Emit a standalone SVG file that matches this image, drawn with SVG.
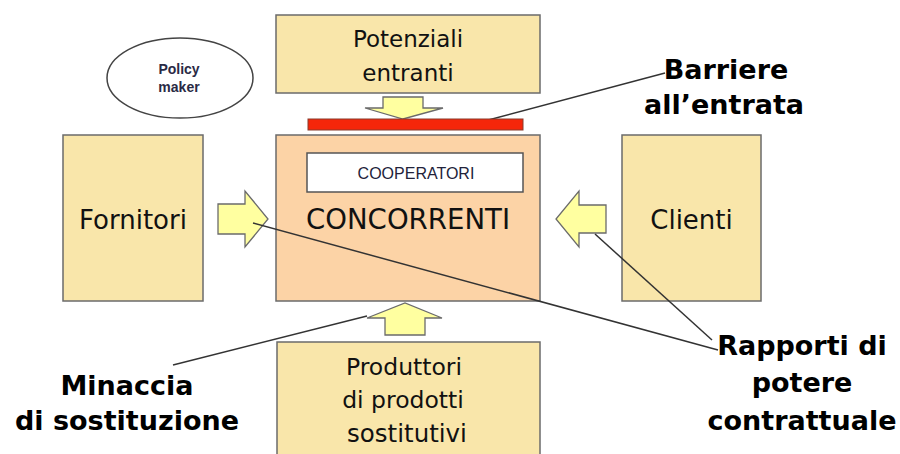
<svg xmlns="http://www.w3.org/2000/svg" width="900" height="454" viewBox="0 0 900 454">
<style>
.box{fill:#f9e6aa;stroke:#6b6b6b;stroke-width:1.5}
.core{fill:#fcd3a6;stroke:#6b6b6b;stroke-width:1.5}
.lbl{font-family:"DejaVu Sans",Verdana,sans-serif;fill:#111;text-anchor:middle}
.bold{font-family:"DejaVu Sans",Verdana,sans-serif;font-weight:bold;fill:#000;text-anchor:middle;font-size:27px}
.blk{fill:#ffffa0;stroke:#6b6b6b;stroke-width:1.3;stroke-linejoin:miter}
.lead{stroke:#333;stroke-width:1.5;fill:none}
</style>
<rect width="900" height="454" fill="#ffffff"/>
<g id="policy-maker">
<ellipse cx="180" cy="78" rx="73" ry="40" fill="#fff" stroke="#444" stroke-width="1.5"/>
<text x="179" y="74" font-family="'Liberation Sans',Arial,sans-serif" font-size="14" font-weight="bold" fill="#2a2a45" text-anchor="middle">Policy</text>
<text x="179" y="92" font-family="'Liberation Sans',Arial,sans-serif" font-size="14" font-weight="bold" fill="#2a2a45" text-anchor="middle">maker</text>
</g>
<g id="potenziali-entranti">
<rect class="box" x="276" y="15" width="264" height="78"/>
<text class="lbl" x="408" y="47" font-size="23">Potenziali</text>
<text class="lbl" x="408" y="81" font-size="23">entranti</text>
</g>
<g id="fornitori">
<rect class="box" x="63" y="135" width="140" height="166"/>
<text class="lbl" x="133" y="229" font-size="26">Fornitori</text>
</g>
<g id="clienti">
<rect class="box" x="622" y="135" width="139" height="166"/>
<text class="lbl" x="691.5" y="229" font-size="26">Clienti</text>
</g>
<g id="concorrenti">
<rect class="core" x="276" y="135" width="264" height="166"/>
<text class="lbl" x="408" y="229" font-size="27.6">CONCORRENTI</text>
</g>
<g id="cooperatori">
<rect x="307" y="153" width="216" height="39" fill="#fff" stroke="#555" stroke-width="1.5"/>
<text x="416" y="179" font-family="'Liberation Sans',Arial,sans-serif" font-size="16" fill="#22223a" text-anchor="middle">COOPERATORI</text>
</g>
<g id="produttori-sostitutivi">
<rect class="box" x="277" y="342" width="263" height="130"/>
<text class="lbl" x="404" y="375" font-size="23.5">Produttori</text>
<text class="lbl" x="403" y="408" font-size="23.5">di prodotti</text>
<text class="lbl" x="407" y="442" font-size="24.5">sostitutivi</text>
</g>
<g id="connectors">
<polygon class="blk" points="383,97 423,97 423,108 443,108 403,119 365,108 383,108"/>
<polygon class="blk" points="218,204 245,204 245,191 268,219 245,247 245,234 218,234"/>
<polygon class="blk" points="606,205 579,205 579,191 556,219 579,247 579,233 606,233"/>
<polygon class="blk" points="385,335 425,335 425,318 442,318 405,303 367,318 385,318"/>
<line class="lead" x1="477" y1="123" x2="665" y2="73"/>
<line class="lead" x1="367" y1="316" x2="173" y2="365"/>
<line class="lead" x1="253" y1="223" x2="718" y2="350"/>
<line class="lead" x1="595" y1="234" x2="712" y2="340"/>
</g>
<g id="barriera">
<rect x="308" y="119" width="215" height="11" fill="#f5260a" stroke="#8a3a2a" stroke-width="1"/>
</g>
<g id="label-barriere">
<text class="bold" x="726" y="79">Barriere</text>
<text class="bold" x="724" y="114">all’entrata</text>
</g>
<g id="label-minaccia">
<text class="bold" x="127" y="395">Minaccia</text>
<text class="bold" x="127" y="430">di sostituzione</text>
</g>
<g id="label-rapporti">
<text class="bold" x="802" y="355">Rapporti di</text>
<text class="bold" x="802" y="392">potere</text>
<text class="bold" x="802" y="430">contrattuale</text>
</g>
</svg>
